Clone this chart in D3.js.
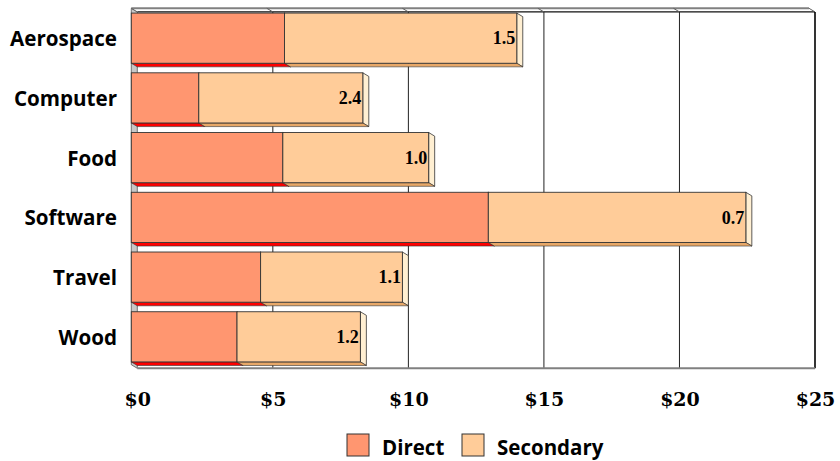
<!DOCTYPE html>
<html>
<head>
<meta charset="utf-8">
<script src="https://cdn.jsdelivr.net/npm/d3@7"></script>
<style>
  html, body { margin: 0; padding: 0; background: #fff; }
  svg { display: block; }
</style>
</head>
<body>
<script>
// ---- data ----
const categories = ["Aerospace", "Computer", "Food", "Software", "Travel", "Wood"];
const directValues = [5.65, 2.49, 5.59, 13.17, 4.77, 3.90];
const secondaryValues = [8.57, 6.05, 5.38, 9.50, 5.23, 4.55];
const ratioLabels = ["1.5", "2.4", "1.0", "0.7", "1.1", "1.2"];
const tickValues = [0, 5, 10, 15, 20, 25];
const seriesNames = ["Direct", "Secondary"];

// ---- styles ----
const W = 840, H = 461;
const DX = 6, DY = 3.6;             // 3D depth offset (back = front + (DX,DY))
const colors = {
  Direct:    { face: "#FF9670", bottom: "#FF0000", side: "#FFB090" },
  Secondary: { face: "#FFCC99", bottom: "#E8A868", side: "#FFEFD2" }
};
const catFont = "'Open Sans', sans-serif";

const svg = d3.select("body").append("svg")
  .attr("width", W).attr("height", H);

// value scale on the back wall
const x = d3.scaleLinear().domain([0, 25]).range([137.3, 815]);
const xf = v => x(v) - DX;   // front plane
// category band scale on the front plane
const y = d3.scaleBand().domain(categories).range([8.3, 366.7])
  .paddingInner(0.16).paddingOuter(0.08);

const backTop = 8.3 + DY, backBottom = 368.3;
const frontTop = 8.3;

// ---- walls ----
const g = svg.append("g");
// left wall
g.append("path")
  .attr("d", `M${xf(0)},${frontTop} L${x(0)},${backTop} L${x(0)},${backBottom} L${xf(0)},${backBottom - DY} Z`)
  .attr("fill", "#C8C8C8").attr("stroke", "#555").attr("stroke-width", 0.8);

// top plane
g.append("path")
  .attr("d", `M${xf(0)},${frontTop} L${xf(25)},${frontTop} L${x(25)},${backTop} L${x(0)},${backTop} Z`)
  .attr("fill", "#fff").attr("stroke", "none");
g.append("line")
  .attr("x1", xf(0)).attr("x2", xf(25)).attr("y1", frontTop).attr("y2", frontTop)
  .attr("stroke", "#808080").attr("stroke-width", 2);
g.append("line")
  .attr("x1", x(0)).attr("x2", x(25)).attr("y1", backTop).attr("y2", backTop)
  .attr("stroke", "#111").attr("stroke-width", 1.2);
g.selectAll(".slant").data(tickValues).join("line")
  .attr("x1", d => xf(d)).attr("y1", frontTop)
  .attr("x2", d => x(d)).attr("y2", backTop)
  .attr("stroke", "#606060").attr("stroke-width", 1);

// gridlines on back wall
g.selectAll(".grid").data(tickValues.slice(1)).join("line")
  .attr("x1", d => x(d)).attr("x2", d => x(d))
  .attr("y1", backTop).attr("y2", backBottom)
  .attr("stroke", d => d === 25 ? "#000" : "#222").attr("stroke-width", d => d === 25 ? 1.6 : 1);

// floor line
g.append("line")
  .attr("x1", x(0)).attr("x2", x(25)).attr("y1", backBottom).attr("y2", backBottom)
  .attr("stroke", "#808080").attr("stroke-width", 2);

// ---- bars ----
const stacked = categories.map((c, i) => {
  const d0 = directValues[i], s0 = secondaryValues[i];
  return [
    { cat: c, series: "Direct", x0: 0, x1: d0 },
    { cat: c, series: "Secondary", x0: d0, x1: d0 + s0 }
  ];
});

const bars = svg.append("g");
stacked.forEach((segs, i) => {
  const c = categories[i];
  const top = y(c), bw = y.bandwidth(), bot = top + bw;
  segs.forEach((s, k) => {
    const a = xf(s.x0), b = xf(s.x1);
    const col = colors[s.series];
    // side face
    bars.append("path")
      .attr("d", `M${b},${top} L${b + DX},${top + DY} L${b + DX},${bot + DY} L${b},${bot} Z`)
      .attr("fill", col.side).attr("stroke", "#333").attr("stroke-width", 0.8);
    // bottom face
    bars.append("path")
      .attr("d", `M${a},${bot} L${b},${bot} L${b + DX},${bot + DY} L${a + DX},${bot + DY} Z`)
      .attr("fill", col.bottom).attr("stroke", "#333").attr("stroke-width", 0.6);
    // front face
    bars.append("rect")
      .attr("x", a).attr("y", top).attr("width", b - a).attr("height", bw)
      .attr("fill", col.face).attr("stroke", "#333").attr("stroke-width", 0.9);
  });
  // ratio label
  const end = xf(segs[1].x1);
  bars.append("text")
    .attr("x", end - 1.5).attr("y", top + bw / 2 + 6.3)
    .attr("text-anchor", "end")
    .attr("font-family", "'Liberation Serif', serif").attr("font-weight", "bold")
    .attr("font-size", 18).attr("fill", "#000")
    .text(ratioLabels[i]);
});

// ---- category labels ----
svg.append("g").selectAll("text").data(categories).join("text")
  .attr("x", 117).attr("y", d => y(d) + y.bandwidth() / 2 + 8)
  .attr("text-anchor", "end")
  .attr("font-family", catFont).attr("font-weight", "bold").attr("font-size", 20.6)
  .attr("fill", "#000")
  .text(d => d);

// ---- x axis tick labels ----
const xAxis = d3.axisBottom(x).tickValues(tickValues).tickFormat(d => "$" + d).tickSize(0).tickPadding(0);
const ax = svg.append("g").attr("transform", `translate(0, 406)`).call(xAxis);
ax.select(".domain").remove();
ax.selectAll("text")
  .attr("font-family", "'DejaVu Serif', serif").attr("font-weight", "bold")
  .attr("font-size", 19).attr("fill", "#000").attr("y", 0).attr("dy", 0);

// ---- legend ----
const legendX = [347, 462];
const leg = svg.append("g");
seriesNames.forEach((n, i) => {
  leg.append("rect")
    .attr("x", legendX[i]).attr("y", 434).attr("width", 22).attr("height", 22)
    .attr("fill", colors[n].face).attr("stroke", "#333").attr("stroke-width", 1);
  leg.append("text")
    .attr("x", legendX[i] + 35).attr("y", 455)
    .attr("font-family", catFont).attr("font-weight", "bold").attr("font-size", 20.5)
    .attr("fill", "#000").text(n);
});
</script>
</body>
</html>
